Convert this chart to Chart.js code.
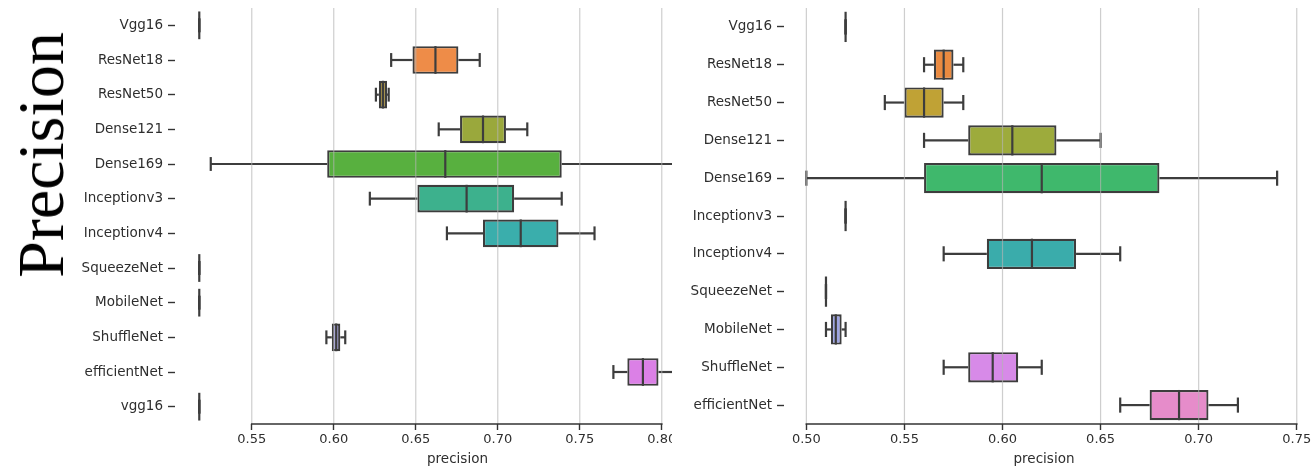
<!DOCTYPE html>
<html>
<head>
<meta charset="utf-8">
<script src="https://cdn.jsdelivr.net/npm/chart.js@4.4.1/dist/chart.umd.min.js"></script>
<style>
  html, body { margin: 0; padding: 0; background: #fff; width: 1314px; height: 473px; overflow: hidden; }
  #left { position: absolute; left: 0; top: 0; width: 672px; height: 473px; overflow: hidden; }
  #leftInner { position: absolute; left: 0; top: 0; width: 760px; height: 473px; }
  #right { position: absolute; left: 672px; top: 0; width: 642px; height: 473px; }
  #ylabel {
    position: absolute; left: 41px; top: 155px;
    transform: translate(-50%, -50%) rotate(-90deg);
    font-family: "Liberation Serif", "DejaVu Serif", serif;
    font-size: 66px; line-height: 1; white-space: nowrap; color: #000;
  }
</style>
</head>
<body>
<div id="left"><div id="leftInner"><canvas id="c1" width="760" height="473"></canvas></div></div>
<div id="right"><canvas id="c2" width="642" height="473"></canvas></div>
<div id="ylabel">Precision</div>
<script>
// ---- left panel: precision per model ----
const leftCategories = ['Vgg16', 'ResNet18', 'ResNet50', 'Dense121', 'Dense169', 'Inceptionv3',
                        'Inceptionv4', 'SqueezeNet', 'MobileNet', 'ShuffleNet', 'efficientNet', 'vgg16'];
const leftMin    = [0.518, 0.635, 0.6257, 0.664, 0.525, 0.622, 0.669, 0.518, 0.518, 0.5955, 0.7705, 0.518];
const leftQ1     = [0.518, 0.648, 0.6275, 0.677, 0.596, 0.651, 0.691, 0.518, 0.518, 0.5988, 0.779, 0.518];
const leftMedian = [0.518, 0.662, 0.6300, 0.691, 0.668, 0.681, 0.714, 0.518, 0.518, 0.6015, 0.7885, 0.518];
const leftQ3     = [0.518, 0.676, 0.6325, 0.705, 0.739, 0.710, 0.737, 0.518, 0.518, 0.604, 0.798, 0.518];
const leftMax    = [0.518, 0.689, 0.6335, 0.718, 0.815, 0.739, 0.759, 0.518, 0.518, 0.607, 0.810, 0.518];
const leftTicks  = [0.55, 0.60, 0.65, 0.70, 0.75, 0.80];

// ---- right panel: precision per model ----
const rightCategories = ['Vgg16', 'ResNet18', 'ResNet50', 'Dense121', 'Dense169', 'Inceptionv3',
                         'Inceptionv4', 'SqueezeNet', 'MobileNet', 'ShuffleNet', 'efficientNet'];
const rightMin    = [0.52, 0.560, 0.54, 0.560,  0.50, 0.52, 0.570,  0.51, 0.510,  0.570,  0.660];
const rightQ1     = [0.52, 0.565, 0.55, 0.5825, 0.56, 0.52, 0.592,  0.51, 0.5125, 0.5825, 0.675];
const rightMedian = [0.52, 0.570, 0.56, 0.605,  0.62, 0.52, 0.615,  0.51, 0.515,  0.595,  0.690];
const rightQ3     = [0.52, 0.575, 0.57, 0.6275, 0.68, 0.52, 0.6375, 0.51, 0.518,  0.608,  0.705];
const rightMax    = [0.52, 0.580, 0.58, 0.650,  0.74, 0.52, 0.660,  0.51, 0.520,  0.620,  0.720];
const rightTicks  = [0.50, 0.55, 0.60, 0.65, 0.70, 0.75];

// box fill colours, one per model row
const leftPalette  = ['#e57b8a', '#ee8c48', '#a38c3c', '#9aa83c', '#58b03f', '#3db18d',
                      '#3aaeac', '#45a7c6', '#6f9be6', '#a6a3dc', '#db80e6', '#e680b4'];
const rightPalette = ['#e57b8a', '#ea8a40', '#c0a235', '#9dab3c', '#3fb86c', '#3db3a0',
                      '#3aacab', '#5aa6d8', '#9ea5e3', '#d78ae8', '#e68cca'];

const LINE = '#3d3d3d';
const TEXT = '#2e2e2e';
const FONT = 'DejaVu Sans';

// whiskers, caps, medians, overlaid grid and a trimmed bottom spine
const boxPlot = {
  id: 'boxPlot',
  afterDatasetsDraw(chart, args, o) {
    const { ctx, chartArea: a, scales: { x, y } } = chart;
    const band = Math.abs(y.getPixelForValue(1) - y.getPixelForValue(0));
    const bh = band * 0.8, cap = bh / 2;
    const seg = (x1, y1, x2, y2) => { ctx.beginPath(); ctx.moveTo(x1, y1); ctx.lineTo(x2, y2); ctx.stroke(); };
    ctx.save();

    ctx.strokeStyle = LINE;
    ctx.lineWidth = 2.2;
    o.min.forEach((_, i) => {
      const cy = y.getPixelForValue(i);
      const pMin = x.getPixelForValue(o.min[i]);
      const pQ1 = x.getPixelForValue(o.q1[i]);
      const pMed = x.getPixelForValue(o.median[i]);
      const pQ3 = x.getPixelForValue(o.q3[i]);
      const pMax = x.getPixelForValue(o.max[i]);
      seg(pMin, cy, pQ1, cy);
      seg(pQ3, cy, pMax, cy);
      seg(pMin, cy - cap / 2, pMin, cy + cap / 2);
      seg(pMax, cy - cap / 2, pMax, cy + cap / 2);
      seg(pMed, cy - bh / 2, pMed, cy + bh / 2);
    });

    ctx.strokeStyle = 'rgba(180,180,180,0.65)';
    ctx.lineWidth = 1.2;
    x.ticks.forEach(t => {
      const px = x.getPixelForValue(t.value);
      seg(px, a.top, px, a.bottom);
    });

    ctx.strokeStyle = '#333';
    ctx.lineWidth = 1.6;
    const first = x.ticks[0].value, last = x.ticks[x.ticks.length - 1].value;
    seg(x.getPixelForValue(first) - 0.8, a.bottom, x.getPixelForValue(last) + 0.8, a.bottom);
    ctx.restore();
  }
};

function makeBoxChart(canvasId, cats, stats, tickValues, palette, geom) {
  const boxes = stats.q1.map((v, i) => (stats.q3[i] > v ? [v, stats.q3[i]] : null));
  return new Chart(document.getElementById(canvasId), {
    type: 'bar',
    data: {
      labels: cats,
      datasets: [{
        data: boxes,
        backgroundColor: palette,
        borderColor: LINE,
        borderWidth: 2.2,
        borderSkipped: false,
        barPercentage: 0.8,
        categoryPercentage: 1.0
      }]
    },
    options: {
      indexAxis: 'y',
      responsive: false,
      animation: false,
      events: [],
      layout: { padding: { left: 0, right: geom.padRight, top: 8, bottom: 0 } },
      plugins: {
        legend: { display: false },
        tooltip: { enabled: false },
        boxPlot: stats
      },
      scales: {
        x: {
          type: 'linear',
          min: geom.min,
          max: geom.max,
          afterBuildTicks: s => { s.ticks = tickValues.map(v => ({ value: v })); },
          afterFit: s => { s.height = 49; s.paddingLeft = 0; s.paddingRight = 0; },
          border: { display: false },
          grid: { drawOnChartArea: false, drawTicks: true, tickLength: 6, tickColor: '#333', tickWidth: 1.4 },
          ticks: {
            autoSkip: false, maxRotation: 0, padding: 2, color: TEXT,
            font: { family: FONT, size: 13 },
            callback: v => Number(v).toFixed(2)
          },
          title: {
            display: true, text: 'precision', color: TEXT,
            font: { family: FONT, size: 13.5 },
            padding: { top: 0, bottom: 5 }
          }
        },
        y: {
          type: 'category',
          offset: true,
          afterFit: s => { s.width = geom.axisWidth; s.paddingTop = 0; s.paddingBottom = 0; },
          border: { display: false },
          grid: { offset: false, drawOnChartArea: false, drawTicks: true, tickLength: 7, tickColor: '#333', tickWidth: 1.4 },
          ticks: { padding: 5, color: TEXT, font: { family: FONT, size: 13.5 } }
        }
      }
    },
    plugins: [boxPlot]
  });
}

makeBoxChart('c1', leftCategories,
  { min: leftMin, q1: leftQ1, median: leftMedian, q3: leftQ3, max: leftMax },
  leftTicks, leftPalette,
  { axisWidth: 175, padRight: 20, min: 0.5032, max: 0.8477 });

makeBoxChart('c2', rightCategories,
  { min: rightMin, q1: rightQ1, median: rightMedian, q3: rightQ3, max: rightMax },
  rightTicks, rightPalette,
  { axisWidth: 112, padRight: 10, min: 0.4886, max: 0.7537 });
</script>
</body>
</html>
